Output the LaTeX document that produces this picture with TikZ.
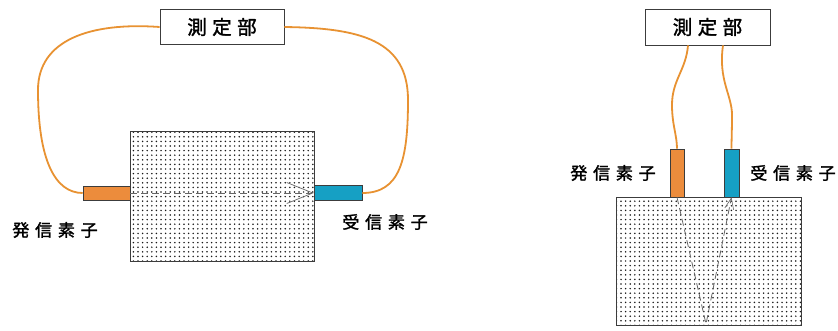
\documentclass[tikz,border=0pt]{standalone}
\usepackage{fontspec}
\newfontfamily\jptitle[LetterSpace=28,FakeBold=1.6]{Noto Sans CJK JP}
\newfontfamily\jplabel[LetterSpace=34,FakeBold=1.6]{Noto Sans CJK JP}
\usetikzlibrary{patterns.meta,arrows.meta}
\definecolor{wire}{RGB}{232,146,50}
\definecolor{sendfill}{RGB}{236,140,60}
\definecolor{recvfill}{RGB}{22,160,196}
\definecolor{edge}{RGB}{60,60,60}
\begin{document}
\begin{tikzpicture}[x=1pt,y=-1pt,
  meter/.style={draw=edge, line width=0.8pt, fill=white, inner sep=0pt,
    minimum width=124pt, minimum height=35pt, font=\jptitle\fontsize{19.5}{19.5}\selectfont},
  block/.style={draw=edge, line width=1pt, inner sep=0pt,
    pattern={Dots[distance=4.6pt,radius=0.85pt]}, pattern color=black!90},
  sender/.style={draw=edge, line width=0.6pt, fill=sendfill, inner sep=0pt},
  receiver/.style={draw=edge, line width=0.6pt, fill=recvfill, inner sep=0pt},
  lbl/.style={font=\jplabel\fontsize{17}{17}\selectfont, inner sep=0pt},
  cable/.style={draw=wire, line width=1.8pt},
  ray/.style={draw=black!60, line width=0.8pt, dash pattern=on 7pt off 4pt},
]
\useasboundingbox (0,0) rectangle (838,330);
\fill[white] (0,0) rectangle (838,330);

% ---- through-transmission arrangement ----
\node[block, minimum width=184pt, minimum height=130pt] (blkA) at (222,196) {};
\node[meter] (mA) at (222,27) {測定部};
\node[sender, minimum width=47pt, minimum height=14pt] (txA) at (106.5,193) {};
\node[receiver, minimum width=48pt, minimum height=15pt] (rxA) at (338,193) {};
\node[lbl] (ltxA) at (55,230) {発信素子};
\node[lbl] (lrxA) at (385,222) {受信素子};

\draw[cable] (mA.west) .. controls (90,22) and (38,40) .. (38,90)
  .. controls (38,160) and (55,193) .. (txA.west);
\draw[cable] (mA.east) .. controls (360,28) and (408,40) .. (408,100)
  .. controls (408,160) and (400,193) .. (rxA.east);
\draw[ray, -{Straight Barb[length=26pt,width=21pt,line width=0.7pt]}]
  (txA.east) -- (rxA.west);

% ---- surface (reflection) arrangement ----
\node[block, minimum width=185pt, minimum height=128pt] (blkB) at (708.5,261) {};
\node[meter, minimum width=125pt, minimum height=36pt] (mB) at (707.5,27) {測定部};
\node[sender, minimum width=14pt, minimum height=48pt] (txB) at (677,173) {};
\node[receiver, minimum width=15pt, minimum height=48pt] (rxB) at (731.5,173) {};
\node[lbl] (ltxB) at (613,173) {発信素子};
\node[lbl] (lrxB) at (793,173) {受信素子};

\draw[cable] (mB.south -| 688,0) .. controls (686,70) and (672,80) .. (672,105)
  .. controls (672,125) and (677,135) .. (txB.north);
\draw[cable] (mB.south -| 723,0) .. controls (718,80) and (732,95) .. (732,115)
  .. controls (732,130) and (731.5,140) .. (rxB.north);

\coordinate (bottomB) at (706,324);
\draw[ray, -{Straight Barb[length=11pt,width=9pt,line width=0.6pt]}]
  (txB.south) -- (bottomB) -- (rxB.south);
\end{tikzpicture}
\end{document}
